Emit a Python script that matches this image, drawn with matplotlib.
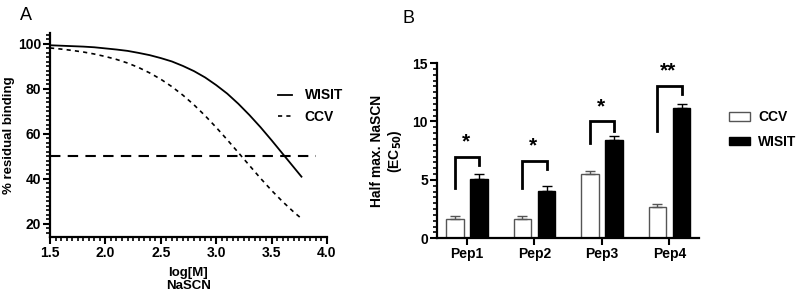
import matplotlib.pyplot as plt
from matplotlib.ticker import MultipleLocator, FixedLocator
from matplotlib.patches import Patch
import numpy as np

plt.rcParams['font.family'] = ['Liberation Sans', 'DejaVu Sans']

# panel A: dose-response curves
log_m = [1.5, 1.6, 1.7, 1.8, 1.9, 2.0, 2.1, 2.2, 2.3, 2.4, 2.5, 2.6, 2.7,
         2.8, 2.9, 3.0, 3.1, 3.2, 3.3, 3.4, 3.5, 3.6, 3.7, 3.77]
wisit_curve = [99.4, 99.2, 99.0, 98.8, 98.5, 98.0, 97.5, 96.9, 96.0, 95.0,
               93.7, 92.2, 90.2, 87.9, 85.1, 81.7, 77.9, 73.4, 68.4, 63.0,
               57.2, 51.2, 45.2, 41.0]
ccv_curve = [98.2, 97.7, 97.1, 96.4, 95.5, 94.4, 93.1, 91.5, 89.5, 87.1,
             84.3, 81.0, 77.2, 72.9, 68.1, 62.9, 57.4, 51.7, 46.0, 40.3,
             34.9, 29.9, 25.3, 22.4]
half_line = 50
half_x = [1.5, 3.9]
a_xticks = [1.5, 2.0, 2.5, 3.0, 3.5, 4.0]
a_yticks = [20, 40, 60, 80, 100]

# panel B: EC50 bars
peps = ['Pep1', 'Pep2', 'Pep3', 'Pep4']
ccv_ec50 = [1.63, 1.65, 5.5, 2.66]
ccv_err = [0.27, 0.25, 0.3, 0.28]
wisit_ec50 = [5.06, 4.05, 8.37, 11.14]
wisit_err = [0.42, 0.43, 0.4, 0.34]
stars = ['*', '*', '*', '**']
br_left = [4.34, 4.34, 8.14, 9.14]
br_top = [7.0, 6.65, 10.0, 13.05]
br_right = [6.28, 5.94, 9.22, 12.34]
b_yticks = [0, 5, 10, 15]

fig = plt.figure(figsize=(7.98, 2.92), dpi=100)


def style_axis(a):
    for s in ['top', 'right']:
        a.spines[s].set_visible(False)
    for s in ['left', 'bottom']:
        a.spines[s].set_linewidth(1.6)
    a.tick_params(which='major', length=5, width=1.5, labelsize=10, pad=1.5)
    a.tick_params(which='minor', length=3.2, width=1.2, color='black')
    for t in a.get_xticklabels() + a.get_yticklabels():
        t.set_fontweight('bold')


# ---- A ----
ax = fig.add_axes([0.0627, 0.1884, 0.347, 0.699])
ax.plot(log_m, wisit_curve, color='black', lw=1.3, label='WISIT')
ax.plot(log_m, ccv_curve, color='black', lw=1.2, ls=(0, (2.5, 2.5)), label='CCV')
ax.plot(half_x, [half_line, half_line], color='black', lw=1.5, ls=(0, (5, 3.5)))
ax.set_xlim(1.5, 4.0)
ax.set_ylim(14.2, 104.9)
ax.xaxis.set_major_locator(FixedLocator(a_xticks))
ax.xaxis.set_major_formatter(plt.FuncFormatter(lambda v, p: '%.1f' % v))
ax.xaxis.set_minor_locator(MultipleLocator(0.05))
ax.yaxis.set_major_locator(FixedLocator(a_yticks))
ax.yaxis.set_minor_locator(MultipleLocator(2))
style_axis(ax)
ax.set_ylabel('% residual binding', fontsize=9.5, fontweight='bold', labelpad=2)
ax.set_xlabel('log[M]\nNaSCN', fontsize=9.5, fontweight='bold', labelpad=5,
              linespacing=1.15)
ax.legend(loc='upper left', bbox_to_anchor=(0.333, 0.74), bbox_transform=fig.transFigure,
          frameon=False, handlelength=1.0, handletextpad=0.9, labelspacing=0.55,
          prop={'weight': 'bold', 'size': 10})
fig.text(0.025, 0.93, 'A', fontsize=13)

# ---- B ----
bx = fig.add_axes([0.5476, 0.1839, 0.3283, 0.6003])
x = np.arange(len(peps))
bw = 0.26
off = 0.18
bx.bar(x - off, ccv_ec50, bw, color='white', edgecolor='#555555', lw=1.0,
       yerr=[[0] * 4, ccv_err], error_kw=dict(ecolor='#555555', elinewidth=1.0,
                                             capsize=3.5, capthick=1.0))
bx.bar(x + off, wisit_ec50, bw, color='black', edgecolor='black', lw=1.0,
       yerr=[[0] * 4, wisit_err], error_kw=dict(ecolor='black', elinewidth=1.0,
                                               capsize=3.5, capthick=1.0))
for i in range(len(peps)):
    bx.plot([x[i] - off, x[i] - off, x[i] + off, x[i] + off],
            [br_left[i], br_top[i], br_top[i], br_right[i]],
            color='black', lw=2.0, solid_joinstyle='miter')
    bx.text(x[i] - 0.02, br_top[i] + 0.45, stars[i], ha='center', va='bottom',
            fontsize=15, fontweight='bold')
bx.set_xlim(-0.444, 3.437)
bx.set_ylim(0, 15)
bx.xaxis.set_major_locator(FixedLocator(list(x)))
bx.xaxis.set_major_formatter(plt.FuncFormatter(lambda v, p: peps[int(round(v))]))
bx.yaxis.set_major_locator(FixedLocator(b_yticks))
bx.yaxis.set_minor_locator(MultipleLocator(0.5))
style_axis(bx)
bx.set_ylabel('Half max. NaSCN\n(EC$_{\\mathbf{50}}$)', fontsize=10, fontweight='bold',
              labelpad=6, linespacing=1.15)
handles = [Patch(facecolor='white', edgecolor='#555555', lw=1.0),
           Patch(facecolor='black', edgecolor='black')]
bx.legend(handles, ['CCV', 'WISIT'], loc='upper left', bbox_to_anchor=(0.898, 0.665),
          bbox_transform=fig.transFigure, frameon=False, handlelength=1.5,
          handleheight=0.55, handletextpad=0.6, labelspacing=0.75,
          prop={'weight': 'bold', 'size': 10})
fig.text(0.505, 0.92, 'B', fontsize=13)

fig.savefig('out.png', dpi=100)
